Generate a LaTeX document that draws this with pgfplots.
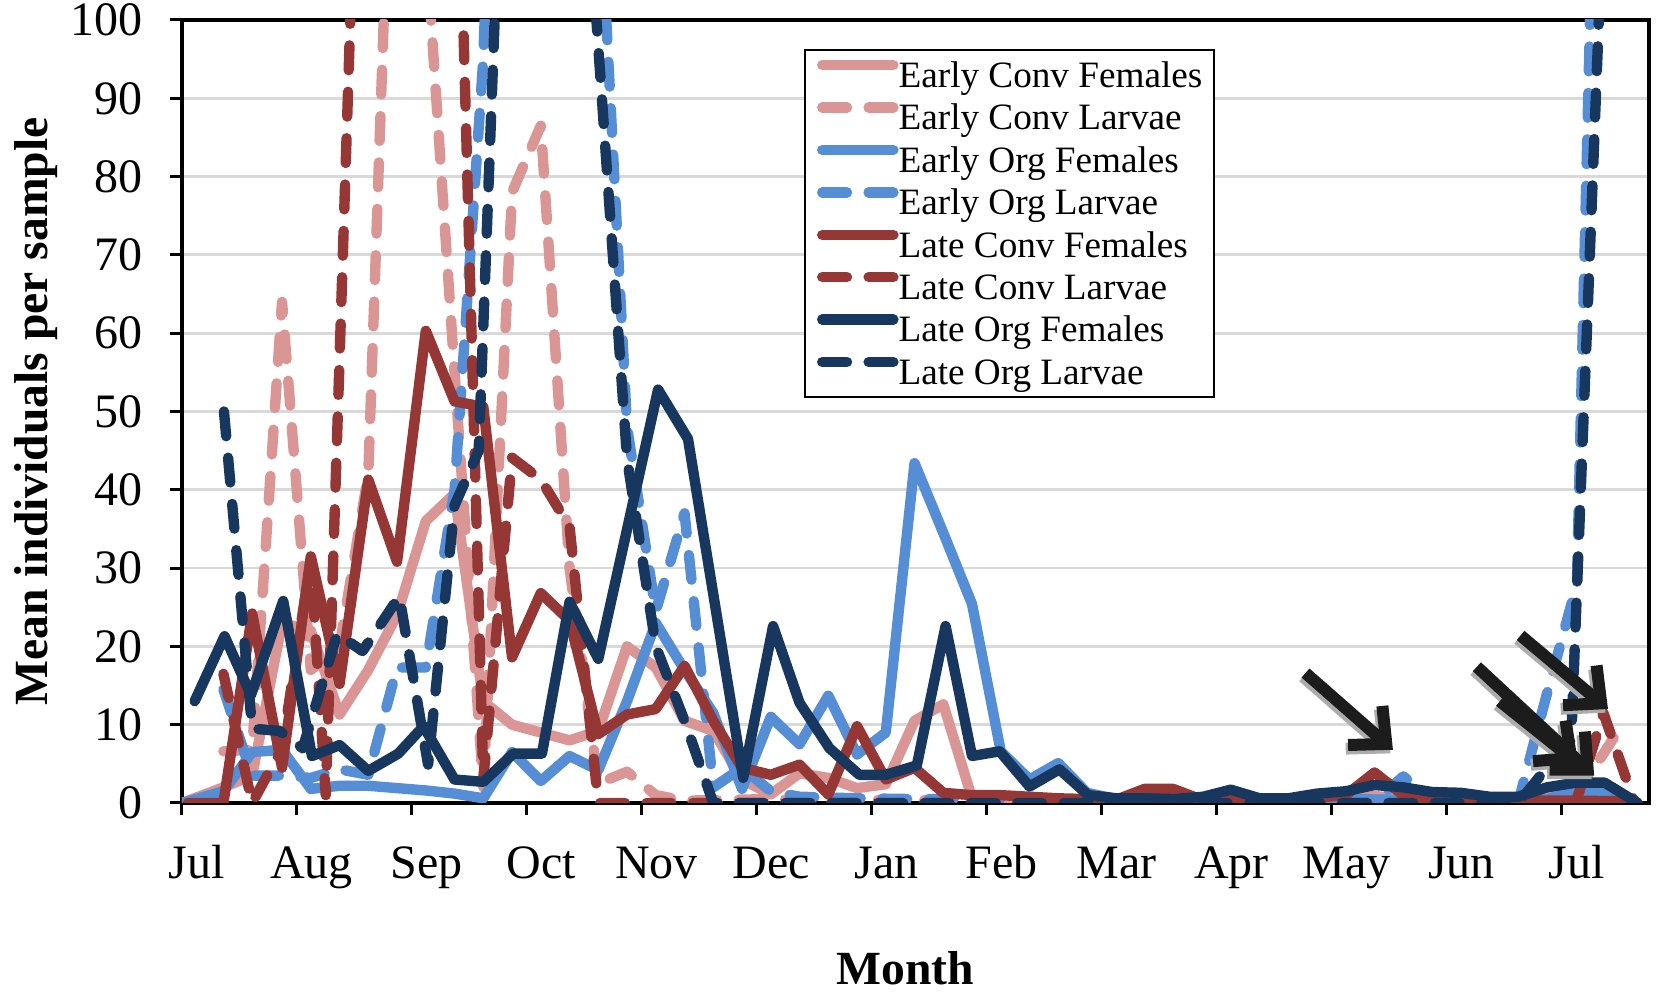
\documentclass[border=0pt]{standalone}
\usepackage{fontspec}
\setmainfont{Liberation Serif}
\usepackage{pgfplots}
\pgfplotsset{compat=1.18}
\usetikzlibrary{arrows.meta}
\definecolor{pinkL}{RGB}{217,150,148}
\definecolor{blueM}{RGB}{85,142,213}
\definecolor{redD}{RGB}{149,55,53}
\definecolor{navy}{RGB}{23,55,94}
\definecolor{gridgray}{RGB}{217,217,217}
\definecolor{arrowc}{RGB}{28,28,28}
\pgfplotsset{
  ser/.style={line width=2.6pt, line join=round, line cap=round, no markers},
  dsh/.style={dash pattern=on 6.2pt off 5.4pt},
}
\begin{document}
\begin{tikzpicture}
\begin{axis}[
  scale only axis, width=366.75pt, height=195.75pt,
  xmin=0, xmax=12.757, ymin=0, ymax=100,
  xtick={0,1,...,12},
  xticklabels={Jul,Aug,Sep,Oct,Nov,Dec,Jan,Feb,Mar,Apr,May,Jun,Jul},
  ytick={0,10,...,100},
  tick align=outside, xtick pos=bottom, ytick pos=left, major tick length=3pt,
  tick style={black, line width=0.75pt},
  ymajorgrids, grid style={gridgray, line width=0.7pt},
  axis line style={black, line width=0.8pt},
  /pgf/number format/assume math mode=true,
  tick label style={font=\fontsize{12}{14}\selectfont, inner sep=0pt},
  xticklabel style={text height=8pt, text depth=2pt, anchor=north, xshift=3.6pt, yshift=-7.6pt},
  yticklabel style={anchor=east, xshift=-6.6pt},
  xlabel={Month}, ylabel={Mean individuals per sample},
  every axis x label/.style={at={(axis description cs:0.493,0)}, anchor=center, yshift=-41.4pt, inner sep=0pt, font=\fontsize{11.9}{14}\selectfont\bfseries},
  every axis y label/.style={at={(axis description cs:-0.0998,0.5)}, anchor=center, rotate=90, inner sep=0pt, font=\fontsize{11.9}{14}\selectfont\bfseries},
  legend style={at={(0.424,0.963)}, anchor=north west, draw=black, line width=0.5pt, fill=white,
    font=\fontsize{9.3}{11}\selectfont, inner xsep=3pt, inner ysep=1pt, row sep=0pt,
    nodes={inner sep=0pt, text height=8.4pt, text depth=2.2pt},
    /tikz/every odd column/.append style={column sep=0pt}},
  legend cell align=left,
  legend image code/.code={\draw[#1] (0.6pt,2.5pt) -- (18.4pt,2.5pt);},
]
% Early Conv Females
\addplot[ser, pinkL] coordinates {
(0,0) (0.36,2) (0.61,3.5) (0.87,23) (1.12,22) (1.37,11.3) (1.62,17) (1.87,24) (2.12,36) (2.37,39.5)
(2.62,13) (2.87,10) (3.12,9) (3.37,8) (3.62,9.2) (3.87,20) (4.12,17.3) (4.37,10.5) (4.62,9.2) (4.87,3)
(5.12,1.1) (5.37,3.8) (5.62,3.2) (5.87,1.9) (6.12,2.4) (6.37,10.5) (6.62,12.6) (6.87,0.6) (7.12,0.4) (7.37,0.3)
(7.62,0.5) (7.87,0.3) (8.12,0.2) (8.62,0.5) (9.12,0.3) (9.62,0.5) (10.12,0.5) (10.37,0.9) (10.62,0.5) (11.12,0.3)
(11.62,0.3) (11.87,1.5) (12.12,2) (12.37,1.5) (12.62,0.3)};
\addlegendentry{Early Conv Females}
% Early Conv Larvae
\addplot[ser, dsh, pinkL] coordinates {
(0.36,6.6) (0.61,6.8) (0.87,64) (1.12,17) (1.37,20) (1.62,42) (1.87,150) (2.12,110) (2.37,55) (2.62,2)
(2.87,78) (3.12,86.5) (3.37,30) (3.62,2.5) (3.87,4) (4.12,1) (4.37,0.3) (5.12,0.5) (5.62,0.3) (6.12,0.4)
(7.12,0.3) (8.12,0.2) (9.12,0.3) (10.12,0.3) (11.12,0.2) (11.87,0.3) (12.12,1) (12.37,6.5) (12.5,9.5)};
\addlegendentry{Early Conv Larvae}
% Early Org Females
\addplot[ser, blueM] coordinates {
(0,0) (0.36,1.5) (0.61,6.5) (0.87,6.8) (1.12,1.8) (1.37,2.2) (1.62,2.2) (1.87,1.9) (2.12,1.6) (2.37,1.2)
(2.62,0.6) (2.87,6.5) (3.12,2.8) (3.37,6.0) (3.62,4.2) (3.87,13) (4.12,23) (4.37,17) (4.62,11.5) (4.87,1.8)
(5.12,11) (5.37,7.5) (5.62,13.7) (5.87,6.2) (6.12,9) (6.37,43.4) (6.62,34.5) (6.87,25.4) (7.12,6.6) (7.37,3.0)
(7.62,5.1) (7.87,1.3) (8.12,0.5) (8.62,0.4) (9.12,0.6) (9.62,0.4) (10.12,0.5) (10.62,0.4) (11.12,0.5) (11.62,0.4)
(11.87,0.5) (12.12,1.5) (12.37,1.2) (12.62,0.3)};
\addlegendentry{Early Org Females}
% Early Org Larvae
\addplot[ser, dsh, blueM] coordinates {
(0.36,14.5) (0.61,3.5) (0.87,3.5) (1.12,3.2) (1.37,4.3) (1.62,3.6) (1.87,17.3) (2.12,17.3) (2.37,40) (2.62,95)
(2.87,200) (3.12,300) (3.37,250) (3.62,120) (3.87,48) (4.12,24.5) (4.37,37) (4.62,2) (4.87,4.5) (5.12,1.5)
(5.37,0.8) (5.87,0.6) (6.37,0.5) (6.87,0.5) (7.37,0.4) (7.87,0.3) (8.87,0.3) (9.87,0.2) (10.37,0.2) (10.62,3.4)
(10.87,0.5) (11.12,0.3) (11.62,0.1) (11.87,14) (12.13,28) (12.37,180)};
\addlegendentry{Early Org Larvae}
% Late Conv Females
\addplot[ser, redD] coordinates {
(0.05,0) (0.36,0) (0.61,24.2) (0.87,4.5) (1.12,31.5) (1.37,15.2) (1.62,41.3) (1.87,30.8) (2.12,60.3) (2.37,51.3)
(2.62,50.6) (2.87,18.6) (3.12,26.8) (3.37,23.3) (3.62,8.8) (3.87,11.3) (4.12,12) (4.37,17.5) (4.62,10.5) (4.87,4.5)
(5.12,3.6) (5.37,4.9) (5.62,1.1) (5.87,9.8) (6.12,3.0) (6.37,4.5) (6.62,1.3) (6.87,1.0) (7.12,1.0) (7.37,0.8)
(7.62,0.6) (7.87,0.5) (8.12,0.4) (8.37,1.8) (8.62,1.8) (8.87,0.4) (9.12,0.4) (9.37,0.3) (9.62,0.5) (9.87,0.7)
(10.12,1.0) (10.37,3.9) (10.62,1.0) (10.87,0.5) (11.12,0.4) (11.62,0.3) (12.12,0.3) (12.62,0.2)};
\addlegendentry{Late Conv Females}
% Late Conv Larvae
\addplot[ser, dsh, redD] coordinates {
(0.36,16.5) (0.61,0) (0.87,7) (1.12,31) (1.25,1) (1.5,117) (1.75,300) (2.0,280) (2.25,200) (2.37,142)
(2.62,3) (2.87,44.1) (3.12,41.3) (3.37,35.3) (3.62,0) (5.62,0) (7.62,0) (9.62,0) (12.12,0) (12.36,11.5)
(12.62,0.5)};
\addlegendentry{Late Conv Larvae}
% Late Org Females
\addplot[ser, navy] coordinates {
(0.11,13) (0.37,21.3) (0.6,13.8) (0.88,25.8) (1.13,6.0) (1.37,7.4) (1.62,4.1) (1.88,6.3) (2.1,9.8) (2.37,3.0)
(2.62,2.7) (2.88,6.3) (3.13,6.3) (3.37,25.7) (3.62,18.4) (4.14,52.8) (4.4,46.5) (4.88,3.2) (5.14,22.6) (5.37,12.8)
(5.63,7.0) (5.89,3.6) (6.12,3.6) (6.39,4.8) (6.64,22.6) (6.87,6.0) (7.11,6.6) (7.37,2.1) (7.63,4.3) (7.88,1.0)
(8.13,0.6) (8.38,0.6) (8.63,0.5) (8.88,0.8) (9.12,1.7) (9.37,0.6) (9.62,0.6) (9.87,1.2) (10.12,1.5) (10.37,2.3)
(10.62,2.0) (10.87,1.4) (11.12,1.3) (11.37,0.8) (11.62,0.8) (11.87,2.0) (12.12,2.6) (12.37,2.6) (12.66,0)};
\addlegendentry{Late Org Females}
% Late Org Larvae
\addplot[ser, dsh, navy] coordinates {
(0.365,50) (0.61,9.5) (0.85,9.2) (1.05,7) (1.35,21.6) (1.57,19.4) (1.89,26.4) (2.14,4.9) (2.37,38) (2.58,45)
(2.87,160) (3.12,250) (3.37,200) (3.58,105) (3.87,44) (4.12,20) (4.37,10.5) (4.62,0) (6.62,0) (8.62,0)
(10.62,0) (11.62,0) (11.84,4) (12.08,8) (12.37,119)};
\addlegendentry{Late Org Larvae}
% annotation arrows
\begin{scope}[line width=3pt, -{Straight Barb[length=7pt,width=13pt]}]
\draw[gray!65, shift={(-0.6pt,-0.9pt)}] (axis cs:9.77,16.6) -- (axis cs:10.53,6.8);
\draw[gray!65, shift={(-0.6pt,-0.9pt)}] (axis cs:11.26,17.4) -- (axis cs:12.28,3.5);
\draw[gray!65, shift={(-0.6pt,-0.9pt)}] (axis cs:11.46,13.0) -- (axis cs:12.14,5.0);
\draw[gray!65, shift={(-0.6pt,-0.9pt)}] (axis cs:11.64,21.4) -- (axis cs:12.40,12.0);
\draw[arrowc] (axis cs:9.77,16.6) -- (axis cs:10.53,6.8);
\draw[arrowc] (axis cs:11.26,17.4) -- (axis cs:12.28,3.5);
\draw[arrowc] (axis cs:11.46,13.0) -- (axis cs:12.14,5.0);
\draw[arrowc] (axis cs:11.64,21.4) -- (axis cs:12.40,12.0);
\end{scope}
\end{axis}
\path (-45.5pt,-47.5pt) rectangle (368.5pt,200.75pt);
\end{tikzpicture}
\end{document}
